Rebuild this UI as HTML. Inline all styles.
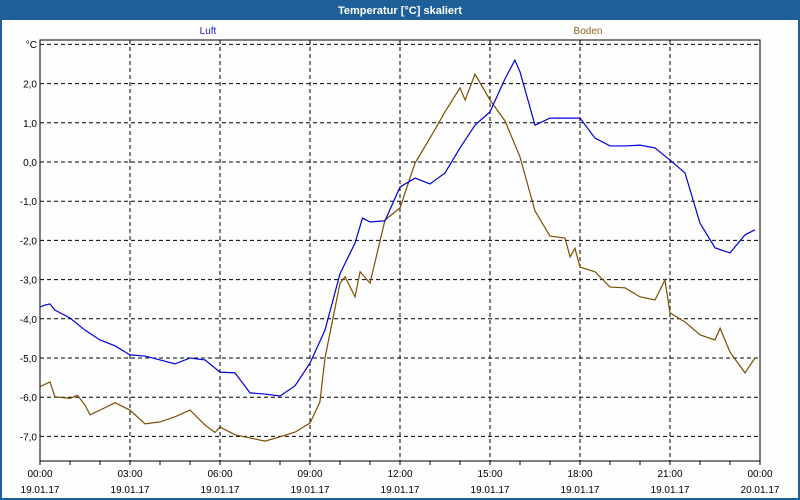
<!DOCTYPE html>
<html><head><meta charset="utf-8"><style>
body{margin:0;width:800px;height:500px;overflow:hidden;background:#fff;font-family:"Liberation Sans",sans-serif}
</style></head><body>
<svg id="c" width="800" height="500" xmlns="http://www.w3.org/2000/svg" style="display:block;font-family:'Liberation Sans',sans-serif">
<rect x="0" y="0" width="800" height="500" fill="#1d5f96"/>
<rect x="2" y="20" width="796" height="478" fill="#fdfefd"/>
<text x="400" y="14" fill="#fff" font-size="11" font-weight="bold" text-anchor="middle">Temperatur [°C] skaliert</text>
<text x="208" y="34" fill="#1a1acc" font-size="10" text-anchor="middle">Luft</text>
<text x="588" y="34" fill="#8a6420" font-size="10" text-anchor="middle">Boden</text>
<text x="37" y="48" fill="#000" font-size="10" text-anchor="end">°C</text>
<g id="grid"></g><g id="series"></g>
<rect x="40" y="40" width="720" height="421" fill="none" stroke="#000" stroke-width="1"/>
</svg>
<script>
const yTicks=[2,1,0,-1,-2,-3,-4,-5,-6,-7];
const yTickLabels=["2,0","1,0","0,0","-1,0","-2,0","-3,0","-4,0","-5,0","-6,0","-7,0"];
const xTickHours=[0,3,6,9,12,15,18,21,24];
const xTickTimes=["00:00","03:00","06:00","09:00","12:00","15:00","18:00","21:00","00:00"];
const xTickDates=["19.01.17","19.01.17","19.01.17","19.01.17","19.01.17","19.01.17","19.01.17","19.01.17","20.01.17"];
const luftT=[0,0.17,0.33,0.5,1,1.5,2,2.5,3,3.5,4,4.5,5,5.5,6,6.5,7,7.5,8,8.5,9,9.5,10,10.5,10.75,11,11.5,12,12.5,13,13.5,14,14.5,15,15.5,15.83,16,16.5,17,17.5,18,18.5,19,19.5,20,20.5,21,21.5,22,22.5,23,23.5,23.83];
const luftV=[-3.70,-3.65,-3.62,-3.78,-3.98,-4.29,-4.54,-4.69,-4.92,-4.95,-5.05,-5.15,-5.0,-5.05,-5.36,-5.38,-5.89,-5.92,-5.97,-5.71,-5.13,-4.29,-2.85,-2.07,-1.43,-1.53,-1.5,-0.64,-0.41,-0.56,-0.28,0.36,0.94,1.28,2.12,2.6,2.3,0.94,1.12,1.12,1.12,0.61,0.41,0.41,0.43,0.36,0.05,-0.28,-1.56,-2.19,-2.32,-1.86,-1.73];
const bodenT=[0,0.33,0.5,1,1.25,1.5,1.67,2,2.5,3,3.5,4,4.5,5,5.5,5.83,6,6.5,7,7.5,8,8.5,9,9.33,9.5,10,10.17,10.5,10.67,11,11.5,12,12.5,13,13.5,14,14.17,14.5,15,15.5,16,16.5,17,17.5,17.67,17.83,18,18.5,19,19.5,20,20.5,20.83,21,21.5,22,22.5,22.67,23,23.5,23.83];
const bodenV=[-5.73,-5.61,-5.99,-6.03,-5.95,-6.2,-6.45,-6.33,-6.14,-6.33,-6.68,-6.63,-6.5,-6.33,-6.71,-6.9,-6.76,-6.96,-7.04,-7.12,-7.01,-6.89,-6.66,-6.12,-5.0,-3.09,-2.93,-3.44,-2.8,-3.09,-1.48,-1.17,-0.03,0.61,1.28,1.89,1.58,2.24,1.58,1.05,0.13,-1.25,-1.89,-1.94,-2.42,-2.2,-2.68,-2.8,-3.19,-3.21,-3.44,-3.52,-3.01,-3.85,-4.08,-4.41,-4.54,-4.24,-4.85,-5.38,-5.0];
const NS="http://www.w3.org/2000/svg";
const X=h=>40+h*30, Y=v=>162-v*39.2;
const grid=document.getElementById('grid'), svg=document.getElementById('c'), ser=document.getElementById('series');
function mk(tag,attrs,parent){const e=document.createElementNS(NS,tag);for(const k in attrs)e.setAttribute(k,attrs[k]);parent.appendChild(e);return e;}
[3,...yTicks].forEach((v,i)=>{const l=mk('line',{x1:40,x2:760,y1:Y(v),y2:Y(v),stroke:'#000','stroke-dasharray':'4,3'},grid);

});
yTicks.forEach((v,i)=>{const t=mk('text',{x:37,y:Y(v)+4,'font-size':10,'text-anchor':'end',fill:'#000'},svg);t.textContent=yTickLabels[i];

});
xTickHours.forEach((h,i)=>{if(h>0&&h<24){const l=mk('line',{x1:X(h),x2:X(h),y1:40,y2:461,stroke:'#000','stroke-dasharray':'4,3'},grid);

}
const a=mk('text',{x:X(h),y:477,'font-size':10,'text-anchor':'middle',fill:'#000'},svg);a.textContent=xTickTimes[i];


const b=mk('text',{x:X(h),y:493,'font-size':10,'text-anchor':'middle',fill:'#000'},svg);b.textContent=xTickDates[i];

});
for(let h=0;h<=24;h++){const l=mk('line',{x1:X(h),x2:X(h),y1:461,y2:465,stroke:'#000'},svg);

}
function line(T,V,col,name){const p=mk('polyline',{points:T.map((t,i)=>X(t)+','+Y(V[i])).join(' '),fill:'none',stroke:col,'stroke-width':1.2},ser);

}
line(bodenT,bodenV,'#7a4e00','boden-line');
line(luftT,luftV,'#0000dd','luft-line');
</script>
</body></html>
